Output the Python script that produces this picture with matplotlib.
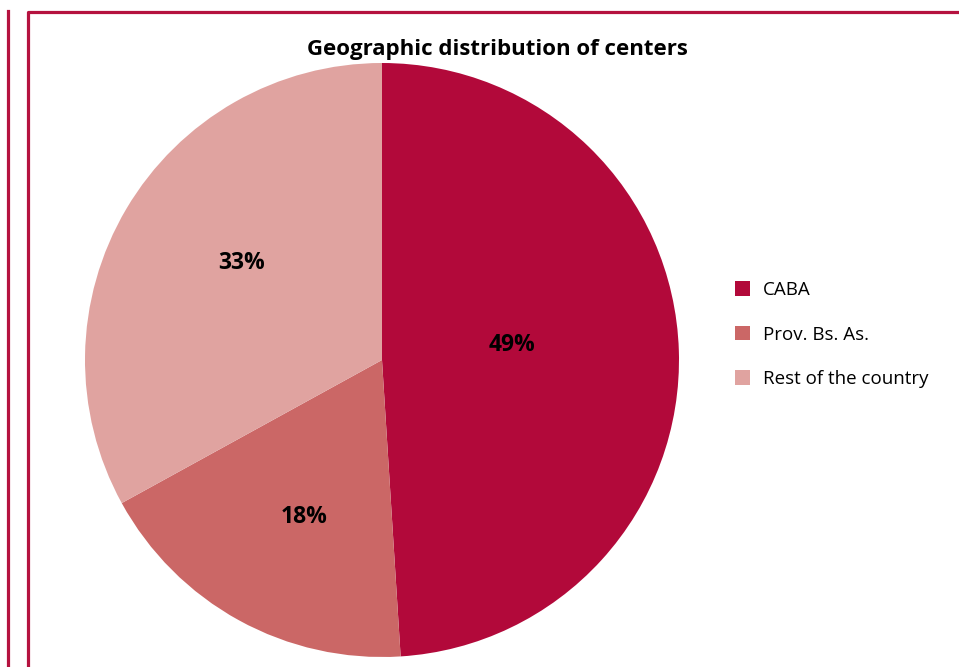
import matplotlib.pyplot as plt
import numpy as np
from matplotlib.lines import Line2D
from matplotlib.patches import Patch

plt.rcParams['font.family'] = ['Open Sans', 'DejaVu Sans']

# data
regions = ['CABA', 'Prov. Bs. As.', 'Rest of the country']
shares = [49, 18, 33]
colors = ['#B2093A', '#CB6766', '#E0A3A0']
border_col = '#B5123F'

# where the % labels sit: distance from centre (radius units), angle in degrees
lab_r = [0.44, 0.59, 0.575]
lab_ang = [6.8, -116.5, 145.4]

W, H = 959, 667
fig = plt.figure(figsize=(W / 100, H / 100), dpi=100)

# pie area
cx, cy, r = 382, 360, 297
ax = fig.add_axes([(cx - r) / W, (H - cy - r) / H, 2 * r / W, 2 * r / H])
wedges, _ = ax.pie(shares, colors=colors, startangle=90, counterclock=False,
                   radius=1, wedgeprops=dict(linewidth=0))
for v, d, a in zip(shares, lab_r, lab_ang):
    t = np.deg2rad(a)
    ax.text(d * np.cos(t), d * np.sin(t), f'{v}%', ha='center', va='center',
            fontsize=16.5, fontweight='bold', color='black')
ax.set_xlim(-1, 1)
ax.set_ylim(-1, 1)
ax.set_aspect('equal')
ax.axis('off')

fig.text(497 / W, 1 - 49 / H, 'Geographic distribution of centers', ha='center',
         va='center', fontsize=16, fontweight='bold')

handles = [Patch(facecolor=c, edgecolor='none') for c in colors]
fig.legend(handles, regions, loc='upper left', bbox_to_anchor=(718 / W, 1 - 264 / H),
           frameon=False, fontsize=13.5, handlelength=0.8, handleheight=0.8,
           handletextpad=0.7, labelspacing=1.42)

# page frame lines
lw = 2.3
fig.add_artist(Line2D([7.5 / W, 7.5 / W], [0, 1 - 11 / H], color=border_col, lw=lw))
fig.add_artist(Line2D([28 / W, 28 / W, 1], [0, 1 - 12 / H, 1 - 12 / H],
                      color=border_col, lw=lw))

fig.savefig('out.png', dpi=100)
